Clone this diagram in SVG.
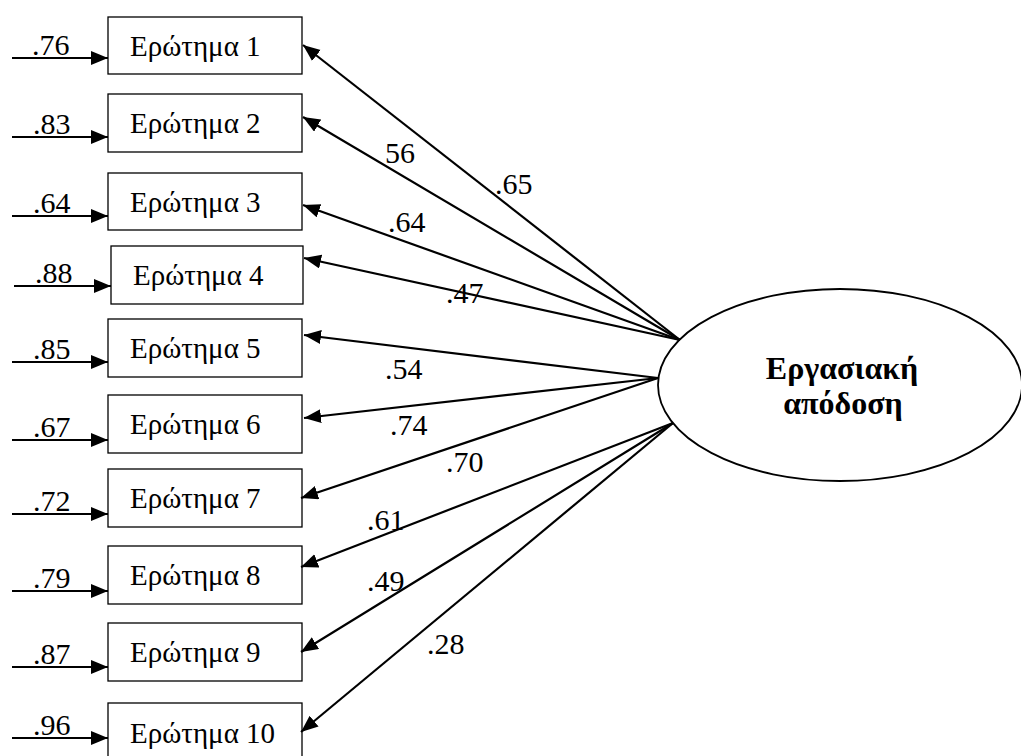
<svg xmlns="http://www.w3.org/2000/svg" width="1021" height="756" viewBox="0 0 1021 756">
  <defs>
    <marker id="arrow" markerUnits="userSpaceOnUse" markerWidth="19" markerHeight="15" refX="17" refY="7" orient="auto">
      <path d="M0,0 L17,7 L0,14 Z" fill="#000"/>
    </marker>
  </defs>
  <style>
    .box { fill: #fff; stroke: #000; stroke-width: 1.3; }
    .latent { fill: #fff; stroke: #000; stroke-width: 1.8; }
    .item { font-family: "Liberation Serif", "DejaVu Serif", serif; font-size: 29px; fill: #000; }
    .name { font-family: "Liberation Serif", "DejaVu Serif", serif; font-size: 32px; font-weight: bold; fill: #000; text-anchor: middle; }
    .num { font-family: "Liberation Serif", "DejaVu Serif", serif; font-size: 30px; fill: #000; }
    .edge { stroke: #000; stroke-width: 2.2; fill: none; marker-end: url(#arrow); }
  </style>

  <rect width="1021" height="756" fill="#fff"/>

  <!-- latent factor -->
  <g id="factor">
    <ellipse class="latent" cx="840" cy="385" rx="182" ry="96"/>
    <text class="name" x="842" y="379">Εργασιακή</text>
    <text class="name" x="843" y="414">απόδοση</text>
  </g>

  <!-- observed items -->
  <g id="q1"><rect class="box" x="108" y="17" width="194" height="57"/><text class="item" x="130" y="56">Ερώτημα 1</text></g>
  <g id="q2"><rect class="box" x="108" y="94" width="194" height="58"/><text class="item" x="130" y="133">Ερώτημα 2</text></g>
  <g id="q3"><rect class="box" x="108" y="173" width="194" height="57"/><text class="item" x="130" y="212">Ερώτημα 3</text></g>
  <g id="q4"><rect class="box" x="111" y="246" width="192" height="58"/><text class="item" x="133" y="285">Ερώτημα 4</text></g>
  <g id="q5"><rect class="box" x="108" y="319" width="194" height="58"/><text class="item" x="130" y="358">Ερώτημα 5</text></g>
  <g id="q6"><rect class="box" x="108" y="395" width="194" height="58"/><text class="item" x="130" y="434">Ερώτημα 6</text></g>
  <g id="q7"><rect class="box" x="108" y="469" width="194" height="58"/><text class="item" x="130" y="508">Ερώτημα 7</text></g>
  <g id="q8"><rect class="box" x="108" y="546" width="194" height="58"/><text class="item" x="130" y="585">Ερώτημα 8</text></g>
  <g id="q9"><rect class="box" x="108" y="623" width="194" height="58"/><text class="item" x="130" y="662">Ερώτημα 9</text></g>
  <g id="q10"><rect class="box" x="108" y="703" width="194" height="60"/><text class="item" x="130" y="743">Ερώτημα 10</text></g>

  <!-- paths and error terms -->
  <g id="connectors">
    <!-- error terms -->
    <line class="edge" x1="12" y1="58" x2="108" y2="58"/>
    <line class="edge" x1="12" y1="137" x2="108" y2="137"/>
    <line class="edge" x1="12" y1="216" x2="108" y2="216"/>
    <line class="edge" x1="14" y1="286" x2="111" y2="286"/>
    <line class="edge" x1="12" y1="362" x2="108" y2="362"/>
    <line class="edge" x1="12" y1="440" x2="108" y2="440"/>
    <line class="edge" x1="12" y1="514" x2="108" y2="514"/>
    <line class="edge" x1="12" y1="591" x2="108" y2="591"/>
    <line class="edge" x1="12" y1="667" x2="108" y2="667"/>
    <line class="edge" x1="12" y1="738" x2="108" y2="738"/>
    <text class="num" x="32" y="55">.76</text>
    <text class="num" x="33" y="134">.83</text>
    <text class="num" x="33" y="213">.64</text>
    <text class="num" x="35" y="283">.88</text>
    <text class="num" x="33" y="359">.85</text>
    <text class="num" x="33" y="437">.67</text>
    <text class="num" x="33" y="511">.72</text>
    <text class="num" x="33" y="588">.79</text>
    <text class="num" x="33" y="664">.87</text>
    <text class="num" x="33" y="735">.96</text>

    <!-- loadings -->
    <line class="edge" x1="680" y1="340" x2="303" y2="45"/>
    <line class="edge" x1="680" y1="340" x2="303" y2="117"/>
    <line class="edge" x1="680" y1="340" x2="303" y2="205"/>
    <line class="edge" x1="680" y1="340" x2="304" y2="258"/>
    <line class="edge" x1="658" y1="378" x2="304" y2="335"/>
    <line class="edge" x1="658" y1="378" x2="304" y2="418"/>
    <line class="edge" x1="658" y1="378" x2="301" y2="498"/>
    <line class="edge" x1="673" y1="423" x2="301" y2="567"/>
    <line class="edge" x1="673" y1="423" x2="301" y2="652"/>
    <line class="edge" x1="673" y1="423" x2="301" y2="732"/>
    <text class="num" x="495" y="194">.65</text>
    <text class="num" x="385" y="163">56</text>
    <text class="num" x="388" y="232">.64</text>
    <text class="num" x="446" y="303">.47</text>
    <text class="num" x="385" y="379">.54</text>
    <text class="num" x="390" y="435">.74</text>
    <text class="num" x="446" y="472">.70</text>
    <text class="num" x="367" y="530">.61</text>
    <text class="num" x="367" y="591">.49</text>
    <text class="num" x="427" y="654">.28</text>
  </g>
</svg>
